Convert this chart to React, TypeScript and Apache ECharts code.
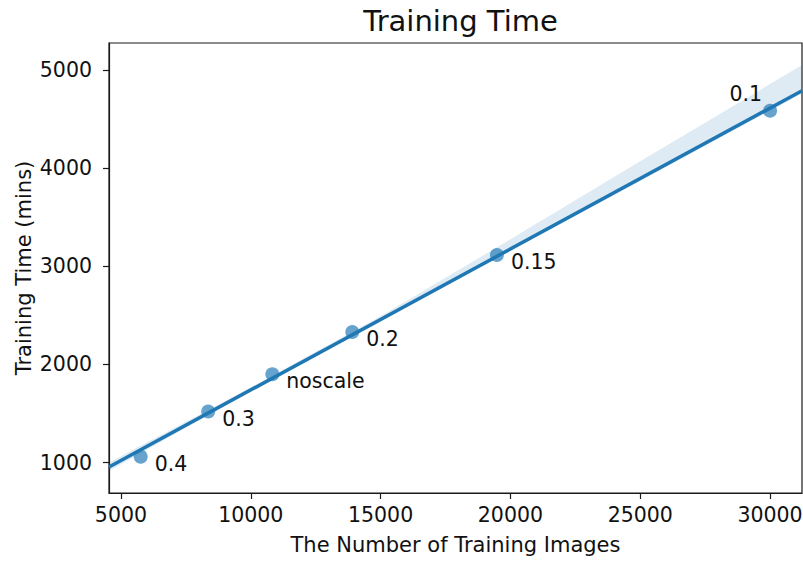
import React, { useEffect, useRef } from "react";
import * as echarts from "echarts";

const xTicks = [5000, 10000, 15000, 20000, 25000, 30000];
const yTicks = [1000, 2000, 3000, 4000, 5000];
const scaleLabels = ["0.4", "0.3", "noscale", "0.2", "0.15", "0.1"];
const numImages = [5760, 8360, 10830, 13910, 19480, 30000];
const trainMins = [1060, 1520, 1900, 2330, 3115, 4585];
const bandX = [4540, 10000, 15000, 20000, 25000, 31230];
const bandLower = [915, 1725, 2440, 3160, 3870, 4760];
const bandUpper = [1000, 1765, 2490, 3275, 4070, 5050];

const X_MIN = 4540;
const X_MAX = 31230;
const Y_MIN = 690;
const Y_MAX = 5275;

const FONT = "DejaVu Sans";
const BLUE = "#1f77b4";
const TXT = "#111111";

function fitLine(xs: number[], ys: number[]) {
  const n = xs.length;
  const mx = xs.reduce((a, b) => a + b, 0) / n;
  const my = ys.reduce((a, b) => a + b, 0) / n;
  let sxy = 0;
  let sxx = 0;
  for (let i = 0; i < n; i++) {
    sxy += (xs[i] - mx) * (ys[i] - my);
    sxx += (xs[i] - mx) * (xs[i] - mx);
  }
  const slope = sxy / sxx;
  return { slope, intercept: my - slope * mx };
}

export default function App() {
  const ref = useRef<HTMLDivElement>(null);
  useEffect(() => {
    if (!ref.current) return;
    const chart = echarts.init(ref.current, null, { renderer: "svg" });
    const { slope, intercept } = fitLine(numImages, trainMins);
    const fit = [X_MIN, X_MAX].map((x) => [x, intercept + slope * x]);

    const labelBase = { show: true, fontFamily: FONT, fontSize: 20.5, color: TXT, opacity: 1 };
    const scatterData = numImages.map((x, i) => {
      const isLast = scaleLabels[i] === "0.1";
      return {
        value: [x, trainMins[i]],
        label: isLast
          ? { ...labelBase, position: "left", distance: 1, offset: [0, -17], formatter: scaleLabels[i] }
          : { ...labelBase, position: "right", distance: 7, offset: [0, 7], formatter: scaleLabels[i] },
      };
    });

    chart.setOption({
      animation: false,
      title: {
        text: "Training Time",
        left: 455.5,
        textAlign: "center",
        top: 1,
        textStyle: { fontFamily: FONT, fontSize: 29, fontWeight: "normal", color: TXT },
      },
      grid: {
        left: 109,
        right: 1,
        top: 43,
        bottom: 68,
        show: true,
        borderColor: "#1a1a1a",
        borderWidth: 1.2,
        backgroundColor: "transparent",
        containLabel: false,
        outerBoundsMode: "none",
      },
      xAxis: {
        type: "value",
        min: X_MIN,
        max: X_MAX,
        name: "The Number of Training Images",
        nameLocation: "middle",
        nameGap: 41,
        nameMoveOverlap: false,
        nameTextStyle: { fontFamily: FONT, fontSize: 21, color: TXT },
        axisLine: { show: true, onZero: false, lineStyle: { color: "#1a1a1a", width: 1.2 } },
        axisTick: { show: true, length: 6, customValues: xTicks, lineStyle: { color: "#1a1a1a", width: 1.2 } },
        axisLabel: {
          customValues: xTicks,
          formatter: (v: number) => String(v),
          margin: 11,
          fontFamily: FONT,
          fontSize: 20.5,
          color: TXT,
        },
        splitLine: { show: false },
      },
      yAxis: {
        type: "value",
        min: Y_MIN,
        max: Y_MAX,
        name: "Training Time (mins)",
        nameLocation: "middle",
        nameGap: 75,
        nameMoveOverlap: false,
        nameTextStyle: { fontFamily: FONT, fontSize: 21, color: TXT },
        axisLine: { show: true, onZero: false, lineStyle: { color: "#1a1a1a", width: 1.2 } },
        axisTick: { show: true, length: 6, customValues: yTicks, lineStyle: { color: "#1a1a1a", width: 1.2 } },
        axisLabel: {
          customValues: yTicks,
          formatter: (v: number) => String(v),
          margin: 17,
          fontFamily: FONT,
          fontSize: 20.5,
          color: TXT,
        },
        splitLine: { show: false },
      },
      series: [
        {
          type: "custom",
          clip: false,
          z: 1,
          silent: true,
          data: [[bandX[0], bandUpper[0]]],
          renderItem: (_params: any, api: any) => {
            const pts: number[][] = [];
            for (let i = 0; i < bandX.length; i++) pts.push(api.coord([bandX[i], bandUpper[i]]));
            for (let i = bandX.length - 1; i >= 0; i--) pts.push(api.coord([bandX[i], bandLower[i]]));
            return {
              type: "polygon",
              shape: { points: pts },
              style: { fill: "rgba(31,119,180,0.15)", stroke: "none" },
            };
          },
        },
        {
          type: "line",
          z: 2,
          data: fit,
          showSymbol: false,
          symbol: "none",
          silent: true,
          lineStyle: { color: BLUE, width: 3.5 },
        },
        {
          type: "scatter",
          z: 3,
          data: scatterData,
          symbolSize: 14,
          itemStyle: { color: "rgba(31,119,180,0.85)" },
          label: labelBase,
        },
      ],
    });
    return () => chart.dispose();
  }, []);
  return <div ref={ref} style={{ width: 803, height: 561, position: "absolute", left: 0, top: 0 }} />;
}
